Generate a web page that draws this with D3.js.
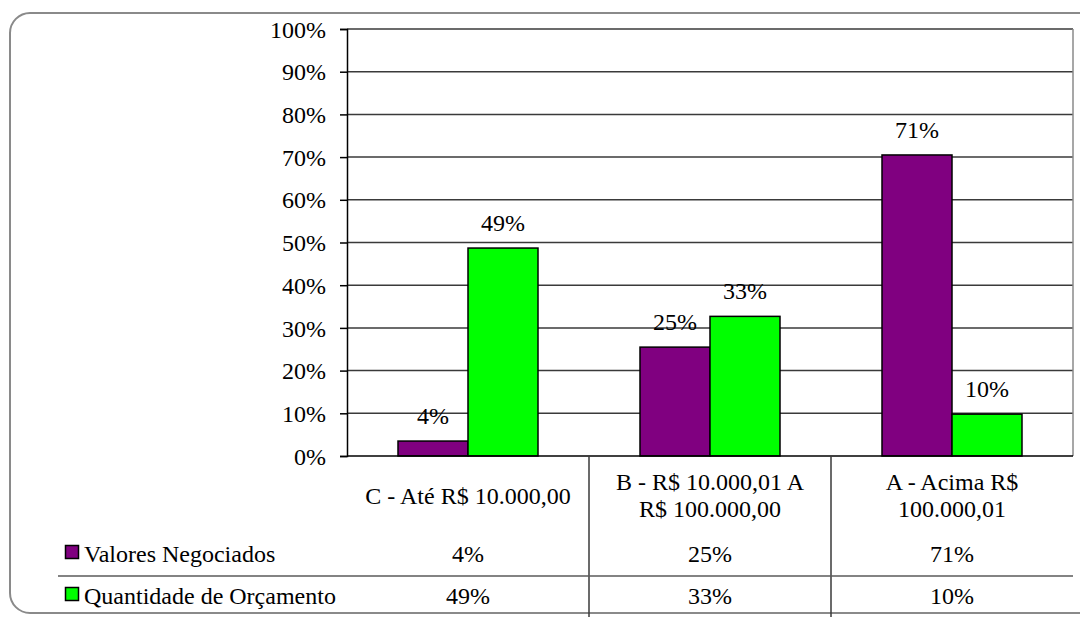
<!DOCTYPE html>
<html>
<head>
<meta charset="utf-8">
<script src="https://cdn.jsdelivr.net/npm/d3@7"></script>
</head>
<body style="margin:0">
<svg id="chart" width="1080" height="617"></svg>
<script>
const categories = ["C - Até R$ 10.000,00", "B - R$ 10.000,01 A R$ 100.000,00", "A - Acima R$ 100.000,01"];
const categoryLines = [["C - Até R$ 10.000,00"], ["B - R$ 10.000,01 A", "R$ 100.000,00"], ["A - Acima R$", "100.000,01"]];
const seriesNames = ["Valores Negociados", "Quantidade de Orçamento"];
const valoresNegociados = [0.035, 0.255, 0.705];
const quantidadeOrcamento = [0.487, 0.327, 0.098];
const valoresLabels = ["4%", "25%", "71%"];
const quantidadeLabels = ["49%", "33%", "10%"];
const yTicks = [0, 0.1, 0.2, 0.3, 0.4, 0.5, 0.6, 0.7, 0.8, 0.9, 1.0];
const seriesColors = ["#800080", "#00ff00"];

const FONT = "'Liberation Serif', monospace";
const series = [
  { name: seriesNames[0], values: valoresNegociados, labels: valoresLabels, color: seriesColors[0] },
  { name: seriesNames[1], values: quantidadeOrcamento, labels: quantidadeLabels, color: seriesColors[1] }
];

const svg = d3.select("#chart");
const pLeft = 347, pRight = 1073, pTop = 29, pBottom = 456;

svg.append("rect").attr("x", 10).attr("y", 13).attr("width", 1090).attr("height", 600)
  .attr("rx", 20).attr("ry", 20).attr("fill", "#fff").attr("stroke", "#8a8a8a").attr("stroke-width", 2);

const x = d3.scaleBand().domain(categories).range([pLeft, pRight]).paddingInner(0).paddingOuter(0);
const y = d3.scaleLinear().domain([0, 1]).range([pBottom, pTop]);
const barW = 70;
const xs = d3.scaleBand().domain(seriesNames).range([0, barW * 2]);

svg.append("g").selectAll("line").data(yTicks.slice(1)).join("line")
  .attr("x1", pLeft).attr("x2", pRight)
  .attr("y1", d => y(d)).attr("y2", d => y(d))
  .attr("stroke", "#3a3a3a").attr("stroke-width", 1.5);

svg.append("line").attr("x1", pRight).attr("x2", pRight).attr("y1", pTop).attr("y2", pBottom)
  .attr("stroke", "#8a8a8a").attr("stroke-width", 1.5);

const yAxis = d3.axisLeft(y).tickValues(yTicks).tickFormat(d3.format(".0%")).tickSize(7).tickPadding(14);
const gy = svg.append("g").attr("transform", `translate(${pLeft},0)`).call(yAxis);
gy.select(".domain").attr("stroke", "#000").attr("stroke-width", 1.5);
gy.selectAll(".tick line").attr("stroke", "#000").attr("stroke-width", 1.5);
gy.selectAll(".tick text").attr("fill", "#000").attr("dy", "0.34em")
  .attr("font-size", 24).style("font-family", FONT);

const groups = svg.append("g").selectAll("g").data(series).join("g");
groups.selectAll("rect").data(s => s.values.map((v, i) => ({ v, i, s }))).join("rect")
  .attr("x", d => x(categories[d.i]) + x.bandwidth() / 2 - barW + xs(d.s.name))
  .attr("y", d => y(d.v))
  .attr("width", xs.bandwidth())
  .attr("height", d => y(0) - y(d.v))
  .attr("fill", d => d.s.color)
  .attr("stroke", "#000").attr("stroke-width", 1.5);

groups.selectAll("text").data(s => s.values.map((v, i) => ({ v, i, s }))).join("text")
  .attr("x", d => x(categories[d.i]) + x.bandwidth() / 2 - barW + xs(d.s.name) + xs.bandwidth() / 2)
  .attr("y", d => y(d.v) - 17)
  .attr("text-anchor", "middle").attr("font-size", 24).style("font-family", FONT)
  .text(d => d.s.labels[d.i]);

svg.append("line").attr("x1", pLeft).attr("x2", pRight).attr("y1", pBottom).attr("y2", pBottom)
  .attr("stroke", "#000").attr("stroke-width", 1.5);

const tbl = svg.append("g");
tbl.selectAll("line.sep").data(categories.slice(1)).join("line").attr("class", "sep")
  .attr("x1", d => x(d)).attr("x2", d => x(d)).attr("y1", pBottom).attr("y2", 617)
  .attr("stroke", "#3a3a3a").attr("stroke-width", 1.5);
tbl.append("line").attr("x1", 58).attr("x2", pRight).attr("y1", 576).attr("y2", 576)
  .attr("stroke", "#5a5a5a").attr("stroke-width", 1.5);

categoryLines.forEach((lines, i) => {
  const cx = x(categories[i]) + x.bandwidth() / 2;
  const startY = lines.length === 1 ? 504 : 490;
  lines.forEach((ln, j) => {
    tbl.append("text").attr("x", cx).attr("y", startY + j * 27)
      .attr("text-anchor", "middle").attr("font-size", 24).style("font-family", FONT).text(ln);
  });
});

const rowBase = [562, 604];
series.forEach((s, r) => {
  tbl.append("rect").attr("x", 65.5).attr("y", rowBase[r] - 16.5).attr("width", 13).attr("height", 13)
    .attr("fill", s.color).attr("stroke", "#000").attr("stroke-width", 1.5);
  tbl.append("text").attr("x", 84).attr("y", rowBase[r]).attr("font-size", 24).style("font-family", FONT).text(s.name);
  s.labels.forEach((lab, i) => {
    tbl.append("text").attr("x", x(categories[i]) + x.bandwidth() / 2).attr("y", rowBase[r])
      .attr("text-anchor", "middle").attr("font-size", 24).style("font-family", FONT).text(lab);
  });
});
</script>
</body>
</html>
